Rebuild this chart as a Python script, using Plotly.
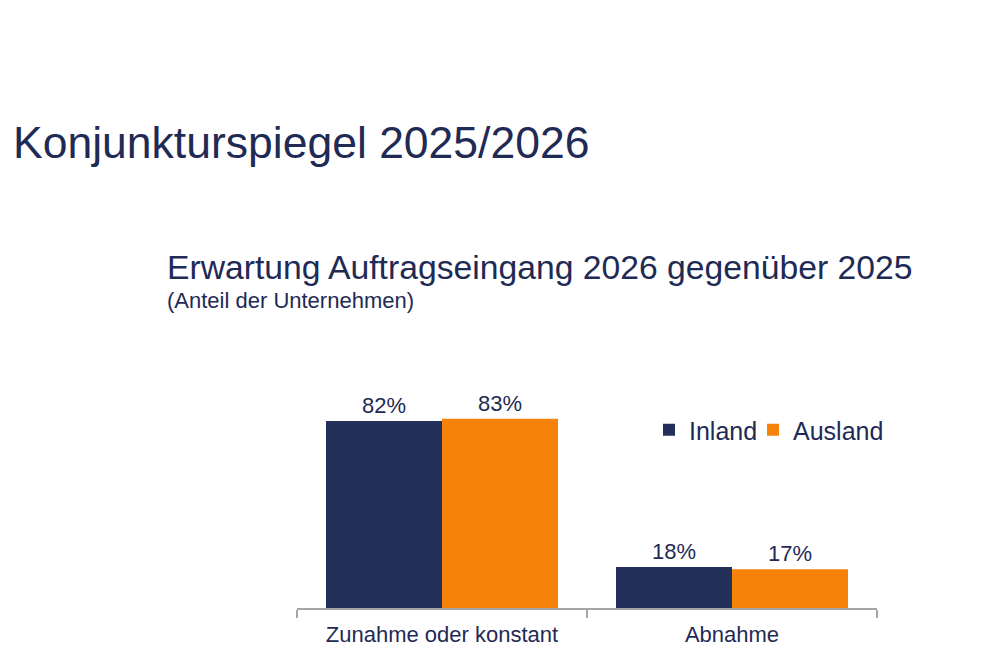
import plotly.graph_objects as go

categories = ["Zunahme oder konstant", "Abnahme"]
inland = [82, 18]
ausland = [83, 17]
series_names = ["Inland", "Ausland"]

NAVY = "#22305a"
ORANGE = "#f7820a"
TEXT = "#1f2a55"
FONT = "Liberation Sans, Arial, sans-serif"

fig = go.Figure()
for name, vals, col, lg in [(series_names[0], inland, NAVY, "legend"),
                            (series_names[1], ausland, ORANGE, "legend2")]:
    fig.add_trace(go.Bar(
        x=categories, y=vals, name=name, marker=dict(color=col, line=dict(width=0)),
        text=[f"{v}%" for v in vals], textposition="outside", legend=lg,
        textfont=dict(size=22, color=TEXT, family=FONT), cliponaxis=False,
    ))

# page offset (body margin) of 8px
OFF = 8
W, H = 1000, 667
PL, PR, PT, PB = 297, 877, 380, 608  # desired plot area in page pixels
L, T = PL - OFF, PT - OFF
pw, ph = PR - PL, PB - PT
R, B = W - L - pw, H - T - ph

def px(x):
    return (x - PL) / pw

def py(y):
    return (PB - y) / ph

legend_common = dict(orientation="h", y=py(430), xanchor="left", yanchor="middle",
                     font=dict(size=25, color=TEXT, family=FONT), itemwidth=30,
                     bgcolor="rgba(0,0,0,0)")

fig.update_layout(
    width=W, height=H,
    margin=dict(l=L, r=R, t=T, b=B),
    paper_bgcolor="white", plot_bgcolor="white",
    barmode="group", bargap=0.2, bargroupgap=0,
    font=dict(family=FONT, color=TEXT),
    showlegend=True,
    legend=dict(x=px(649), **legend_common),
    legend2=dict(x=px(753), **legend_common),
    xaxis=dict(showline=True, linecolor="#a6a6a6", linewidth=1.5, ticks="outside",
               tickson="boundaries", ticklen=8, tickcolor="#a6a6a6", tickwidth=1.5,
               ticklabelstandoff=6,
               tickfont=dict(size=22, color=TEXT, family=FONT), showgrid=False),
    yaxis=dict(range=[0, 100], visible=False, showgrid=False),
    annotations=[
        dict(text="Konjunkturspiegel 2025/2026", xref="paper", yref="paper",
             x=px(11), y=py(142), xanchor="left", yanchor="middle", showarrow=False,
             font=dict(size=44.5, color=TEXT, family=FONT)),
        dict(text="Erwartung Auftragseingang 2026 gegenüber 2025", xref="paper", yref="paper",
             x=px(165), y=py(267), xanchor="left", yanchor="middle", showarrow=False,
             font=dict(size=33.7, color=TEXT, family=FONT)),
        dict(text="(Anteil der Unternehmen)", xref="paper", yref="paper",
             x=px(165), y=py(300), xanchor="left", yanchor="middle", showarrow=False,
             font=dict(size=22, color=TEXT, family=FONT)),
    ],
)

fig.write_html("out.html")
